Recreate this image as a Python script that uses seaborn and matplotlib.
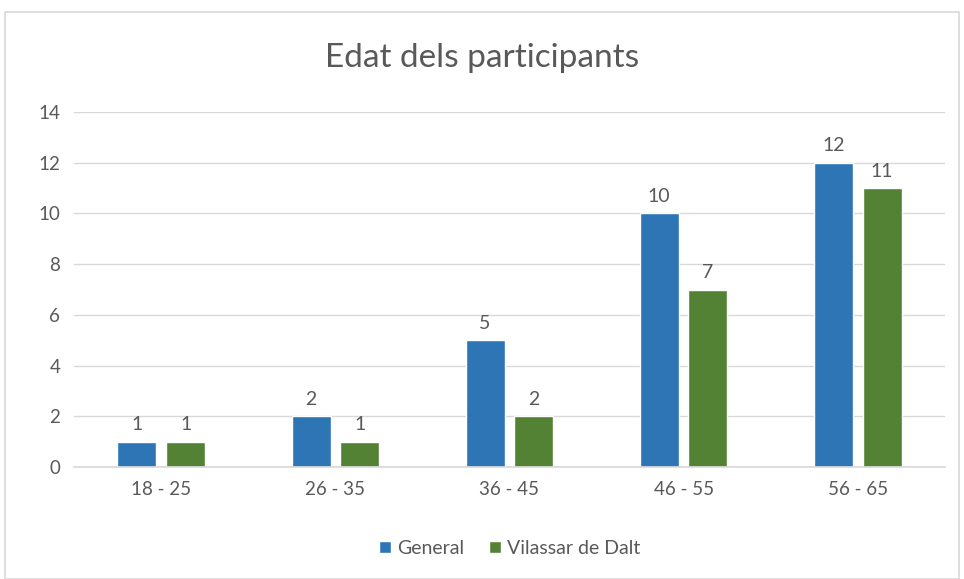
import pandas as pd
import seaborn as sns
import matplotlib.pyplot as plt
from matplotlib.patches import Rectangle

sns.set_theme(style='white')
plt.rcParams['font.family'] = ['Lato', 'DejaVu Sans']

# Dades
grups_edat = ['18 - 25', '26 - 35', '36 - 45', '46 - 55', '56 - 65']
general = [1, 2, 5, 10, 12]
vilassar = [1, 1, 2, 7, 11]
series = ['General', 'Vilassar de Dalt']
colors = ['#2E75B6', '#548235']

df = pd.DataFrame({
    'edat': grups_edat * 2,
    'valor': general + vilassar,
    'serie': [series[0]] * len(grups_edat) + [series[1]] * len(grups_edat),
})

text_color = '#595959'
fig = plt.figure(figsize=(9.64, 5.79), dpi=100)
ax = fig.add_axes([0.077, 0.1934, 0.903, 0.6132])

sns.barplot(data=df, x='edat', y='valor', hue='serie', palette=colors,
            saturation=1, width=0.56, gap=0.2, ax=ax, legend=True)

for cont in ax.containers:
    ax.bar_label(cont, fmt='%d', padding=6, fontsize=14, color=text_color)

ax.set_ylim(0, 14)
ax.set_yticks(range(0, 15, 2))
ax.yaxis.grid(True, color='#D9D9D9', linewidth=1)
ax.set_axisbelow(True)
for s in ['top', 'right', 'left']:
    ax.spines[s].set_visible(False)
ax.spines['bottom'].set_color('#D9D9D9')
ax.set_xlabel('')
ax.set_ylabel('')
ax.tick_params(axis='both', colors=text_color, labelsize=13.5, length=0, pad=10)

ax.legend(loc='upper center', bbox_to_anchor=(0.5, -0.155), ncol=2, frameon=False,
          fontsize=14, labelcolor=text_color, handlelength=0.6, handleheight=0.6,
          handletextpad=0.3, columnspacing=1.3)

fig.text(0.5, 0.90, 'Edat dels participants', ha='center', va='center',
         fontsize=24, color=text_color)

fig.patches.append(Rectangle((0.005, 0.0), 0.99, 0.98, transform=fig.transFigure,
                             fill=False, edgecolor='#D9D9D9', linewidth=1.2))

fig.savefig('out.png', dpi=100, facecolor='white')
